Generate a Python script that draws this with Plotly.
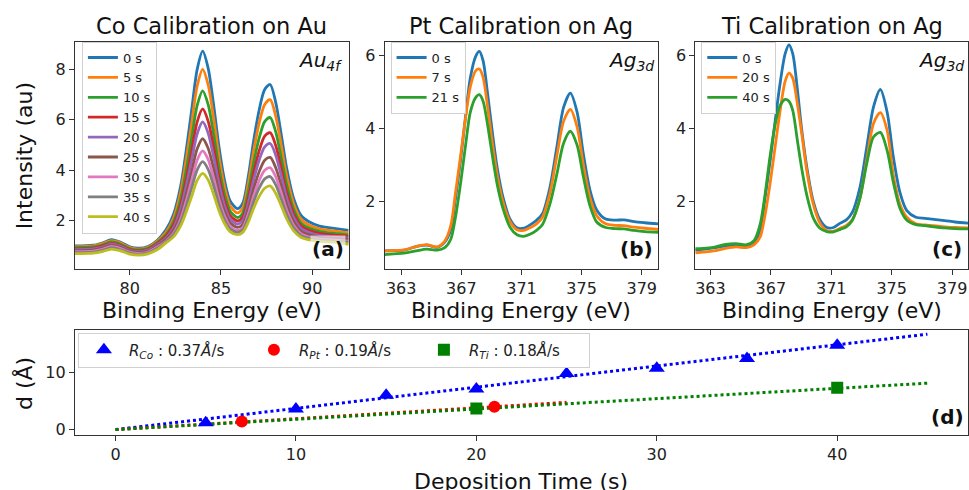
import plotly.graph_objects as go

W, H = 969, 490
FONT = "DejaVu Sans"
TAB = ["#1f77b4", "#ff7f0e", "#2ca02c", "#d62728", "#9467bd",
       "#8c564b", "#e377c2", "#7f7f7f", "#bcbd22"]

# ---------------- Panel (a): Co calibration on Au 4f ----------------
au_energy = [77.0, 78.0, 78.5, 79.0, 79.5, 80.0, 80.5, 81.0, 81.5, 82.0, 82.4, 82.8,
             83.1, 83.4, 83.7, 84.0, 84.3, 84.6, 84.9, 85.2, 85.5, 85.9, 86.2, 86.5,
             86.8, 87.1, 87.4, 87.7, 88.0, 88.3, 88.6, 89.0, 89.4, 89.8, 90.4, 91.2, 92.0]
au_labels = ["0 s", "5 s", "10 s", "15 s", "20 s", "25 s", "30 s", "35 s", "40 s"]
au_0s = [1.00, 1.03, 1.12, 1.25, 1.15, 0.97, 0.91, 0.98, 1.22, 1.65, 2.25, 3.40, 4.80, 6.40, 8.00, 8.72, 8.05, 6.60, 4.90, 3.60, 2.80, 2.48, 2.70, 3.75, 5.20, 6.40, 7.20, 7.40, 6.70, 5.45, 4.10, 2.85, 2.20, 1.97, 1.79, 1.70, 1.62]
au_5s = [0.97, 1.00, 1.09, 1.21, 1.12, 0.94, 0.88, 0.95, 1.18, 1.55, 2.10, 3.15, 4.43, 5.88, 7.34, 8.00, 7.39, 6.07, 4.52, 3.33, 2.60, 2.31, 2.51, 3.47, 4.79, 5.88, 6.61, 6.80, 6.16, 5.02, 3.79, 2.65, 2.05, 1.84, 1.68, 1.60, 1.52]
au_10s = [0.93, 0.96, 1.04, 1.16, 1.07, 0.90, 0.85, 0.91, 1.13, 1.46, 1.95, 2.87, 4.00, 5.28, 6.57, 7.15, 6.61, 5.44, 4.08, 3.03, 2.39, 2.13, 2.31, 3.15, 4.32, 5.28, 5.93, 6.09, 5.53, 4.52, 3.43, 2.43, 1.90, 1.72, 1.58, 1.50, 1.44]
au_15s = [0.89, 0.92, 1.00, 1.11, 1.02, 0.86, 0.81, 0.87, 1.09, 1.40, 1.83, 2.64, 3.64, 4.78, 5.92, 6.43, 5.95, 4.92, 3.71, 2.79, 2.22, 1.99, 2.15, 2.89, 3.92, 4.78, 5.35, 5.49, 4.99, 4.10, 3.14, 2.25, 1.79, 1.63, 1.50, 1.43, 1.38]
au_20s = [0.86, 0.89, 0.96, 1.08, 0.99, 0.83, 0.78, 0.84, 1.05, 1.33, 1.72, 2.47, 3.38, 4.41, 5.45, 5.92, 5.48, 4.54, 3.44, 2.60, 2.08, 1.87, 2.01, 2.69, 3.63, 4.41, 4.93, 5.06, 4.61, 3.80, 2.92, 2.11, 1.69, 1.54, 1.42, 1.36, 1.31]
au_25s = [0.82, 0.84, 0.92, 1.03, 0.94, 0.80, 0.75, 0.80, 1.00, 1.27, 1.61, 2.26, 3.05, 3.95, 4.85, 5.25, 4.87, 4.06, 3.10, 2.37, 1.92, 1.74, 1.86, 2.45, 3.27, 3.95, 4.40, 4.51, 4.11, 3.41, 2.65, 1.95, 1.58, 1.45, 1.35, 1.30, 1.26]
au_30s = [0.78, 0.80, 0.87, 0.98, 0.90, 0.76, 0.71, 0.76, 0.95, 1.20, 1.50, 2.08, 2.79, 3.60, 4.41, 4.77, 4.43, 3.70, 2.84, 2.19, 1.78, 1.62, 1.73, 2.26, 2.99, 3.60, 4.00, 4.10, 3.75, 3.12, 2.44, 1.81, 1.48, 1.36, 1.27, 1.23, 1.19]
au_35s = [0.74, 0.76, 0.83, 0.93, 0.85, 0.72, 0.67, 0.73, 0.90, 1.17, 1.44, 1.95, 2.58, 3.30, 4.02, 4.34, 4.04, 3.39, 2.63, 2.04, 1.68, 1.54, 1.64, 2.11, 2.76, 3.30, 3.66, 3.75, 3.43, 2.87, 2.27, 1.71, 1.41, 1.31, 1.23, 1.19, 1.15]
au_40s = [0.70, 0.72, 0.78, 0.88, 0.81, 0.68, 0.64, 0.69, 0.85, 1.13, 1.36, 1.81, 2.35, 2.97, 3.60, 3.88, 3.62, 3.05, 2.39, 1.89, 1.57, 1.45, 1.54, 1.94, 2.51, 2.97, 3.29, 3.38, 3.09, 2.61, 2.08, 1.59, 1.34, 1.25, 1.18, 1.15, 1.07]
au_series = [au_0s, au_5s, au_10s, au_15s, au_20s, au_25s, au_30s, au_35s, au_40s]

# ---------------- Panel (b): Pt calibration on Ag 3d ----------------
pt_energy = [361.9, 362.5, 363.2, 364.0, 364.7, 365.4, 365.9, 366.3, 366.6, 366.95,
             367.3, 367.6, 367.95, 368.2, 368.45, 368.75, 369.05, 369.4, 369.8, 370.25,
             370.7, 371.15, 371.6, 372.0, 372.4, 372.9, 373.35, 373.8, 374.25, 374.7,
             375.1, 375.55, 376.0, 376.6, 377.2, 377.8, 378.5, 379.2, 380.1]
pt_labels = ["0 s", "7 s", "21 s"]
pt_0s = [0.66, 0.67, 0.68, 0.78, 0.82, 0.76, 0.90, 1.24, 2.05, 3.14, 4.40, 5.39, 5.97, 6.11, 5.85, 4.95, 3.95, 2.90, 2.08, 1.52, 1.29, 1.28, 1.38, 1.50, 1.68, 2.41, 3.49, 4.58, 4.97, 4.45, 3.35, 2.33, 1.78, 1.53, 1.50, 1.51, 1.46, 1.43, 1.40]
pt_7s = [0.66, 0.67, 0.69, 0.78, 0.83, 0.77, 0.93, 1.35, 2.20, 3.25, 4.35, 5.15, 5.58, 5.63, 5.40, 4.60, 3.65, 2.70, 1.95, 1.45, 1.24, 1.22, 1.30, 1.40, 1.58, 2.25, 3.25, 4.20, 4.53, 4.05, 3.05, 2.12, 1.62, 1.40, 1.36, 1.35, 1.31, 1.28, 1.25]
pt_21s = [0.56, 0.58, 0.60, 0.66, 0.71, 0.68, 0.75, 0.98, 1.55, 2.50, 3.60, 4.45, 4.85, 4.93, 4.75, 4.10, 3.30, 2.45, 1.78, 1.30, 1.10, 1.06, 1.12, 1.22, 1.38, 1.95, 2.75, 3.60, 3.93, 3.55, 2.72, 1.90, 1.45, 1.30, 1.27, 1.26, 1.22, 1.19, 1.17]
pt_series = [pt_0s, pt_7s, pt_21s]

# ---------------- Panel (c): Ti calibration on Ag 3d ----------------
ti_energy = [362.0, 362.5, 363.2, 364.0, 364.7, 365.4, 365.9, 366.3, 366.6, 366.95,
             367.3, 367.6, 367.95, 368.2, 368.45, 368.75, 369.05, 369.4, 369.8, 370.25,
             370.7, 371.15, 371.6, 372.0, 372.4, 372.9, 373.35, 373.8, 374.25, 374.7,
             375.1, 375.55, 376.0, 376.6, 377.2, 377.8, 378.5, 379.2, 380.1]
ti_labels = ["0 s", "20 s", "40 s"]
ti_0s = [0.68, 0.70, 0.74, 0.80, 0.82, 0.79, 0.90, 1.25, 2.05, 3.10, 4.25, 5.20, 6.05, 6.29, 6.05, 5.10, 3.95, 2.90, 2.03, 1.51, 1.30, 1.30, 1.42, 1.51, 1.72, 2.40, 3.50, 4.60, 5.07, 4.45, 3.25, 2.25, 1.76, 1.58, 1.55, 1.52, 1.49, 1.45, 1.42]
ti_20s = [0.61, 0.63, 0.66, 0.73, 0.77, 0.75, 0.83, 1.05, 1.60, 2.50, 3.55, 4.45, 5.30, 5.52, 5.38, 4.70, 3.85, 2.80, 1.95, 1.42, 1.22, 1.20, 1.28, 1.36, 1.52, 2.10, 3.15, 4.15, 4.44, 3.95, 2.75, 1.93, 1.58, 1.40, 1.37, 1.35, 1.32, 1.30, 1.29]
ti_40s = [0.72, 0.73, 0.76, 0.84, 0.86, 0.83, 0.95, 1.40, 2.15, 3.25, 4.15, 4.62, 4.80, 4.75, 4.50, 3.70, 2.90, 2.15, 1.57, 1.28, 1.19, 1.18, 1.25, 1.32, 1.50, 2.10, 3.05, 3.78, 3.90, 3.40, 2.55, 1.82, 1.50, 1.38, 1.35, 1.32, 1.29, 1.27, 1.26]
ti_series = [ti_0s, ti_20s, ti_40s]

# ---------------- Panel (d): thickness vs deposition time ----------------
co_time = [5, 10, 15, 20, 25, 30, 35, 40]
co_thick = [1.2, 3.6, 6.0, 7.1, 9.8, 10.7, 12.4, 14.7]
pt_time = [7, 21]
pt_thick = [1.4, 4.0]
ti_time = [20, 40]
ti_thick = [3.7, 7.3]
co_fit_time = [0, 45]
co_fit_thick = [0, 16.65]
pt_fit_time = [0, 25]
pt_fit_thick = [0, 4.75]
ti_fit_time = [0, 45]
ti_fit_thick = [0, 8.1]
rate_labels = ["0.37", "0.19", "0.18"]


def px(x):
    return x / W


def py(y):
    return 1 - y / H


fig = go.Figure()

LW = 2.8
for name, ys, col in zip(au_labels, au_series, TAB):
    fig.add_trace(go.Scatter(x=au_energy, y=ys, name=name, mode="lines",
                             line=dict(color=col, width=LW, shape="spline", smoothing=0.8),
                             xaxis="x", yaxis="y", legend="legend"))
for name, ys, col in zip(pt_labels, pt_series, TAB):
    fig.add_trace(go.Scatter(x=pt_energy, y=ys, name=name, mode="lines",
                             line=dict(color=col, width=LW, shape="spline", smoothing=0.8),
                             xaxis="x2", yaxis="y2", legend="legend2"))
for name, ys, col in zip(ti_labels, ti_series, TAB):
    fig.add_trace(go.Scatter(x=ti_energy, y=ys, name=name, mode="lines",
                             line=dict(color=col, width=LW, shape="spline", smoothing=0.8),
                             xaxis="x3", yaxis="y3", legend="legend3"))

# fit lines
for tt, dd, col in [(co_fit_time, co_fit_thick, "blue"),
                    (pt_fit_time, pt_fit_thick, "red"),
                    (ti_fit_time, ti_fit_thick, "green")]:
    fig.add_trace(go.Scatter(x=tt, y=dd, mode="lines", showlegend=False,
                             line=dict(color=col, width=3, dash="dot"),
                             xaxis="x4", yaxis="y4", hoverinfo="skip"))

fig.add_trace(go.Scatter(x=co_time, y=co_thick, mode="markers",
                         name="<i>R</i><sub><i>Co</i></sub> : " + rate_labels[0] + "<i>Å</i>/s",
                         marker=dict(symbol="triangle-up", color="blue", size=14),
                         xaxis="x4", yaxis="y4", legend="legend4"))
fig.add_trace(go.Scatter(x=pt_time, y=pt_thick, mode="markers",
                         name="<i>R</i><sub><i>Pt</i></sub> : " + rate_labels[1] + "<i>Å</i>/s",
                         marker=dict(symbol="circle", color="red", size=12),
                         xaxis="x4", yaxis="y4", legend="legend4"))
fig.add_trace(go.Scatter(x=ti_time, y=ti_thick, mode="markers",
                         name="<i>R</i><sub><i>Ti</i></sub> : " + rate_labels[2] + "<i>Å</i>/s",
                         marker=dict(symbol="square", color="green", size=12),
                         xaxis="x4", yaxis="y4", legend="legend4"))

AX = dict(showline=True, mirror=True, linecolor="#333", linewidth=1,
          ticks="outside", ticklen=5, tickwidth=1, tickcolor="#333",
          showgrid=False, zeroline=False,
          tickfont=dict(family=FONT, size=16, color="#222"))

LEG = dict(xanchor="left", yanchor="top", bgcolor="rgba(255,255,255,0.8)",
           bordercolor="#d0d0d0", borderwidth=1,
           font=dict(family=FONT, size=13, color="#222"), itemwidth=30,
           tracegroupgap=0)

fig.update_layout(
    width=W, height=H, margin=dict(l=0, r=0, t=0, b=0),
    paper_bgcolor="white", plot_bgcolor="white",
    font=dict(family=FONT, color="#222"),
    xaxis=dict(AX, domain=[px(75), px(349)], anchor="y", range=[77, 92], tickvals=[80, 85, 90]),
    yaxis=dict(AX, domain=[py(272), py(42)], anchor="x", range=[0.08, 9.1], tickvals=[2, 4, 6, 8]),
    xaxis2=dict(AX, domain=[px(385), px(659)], anchor="y2", range=[361.9, 380.1],
                tickvals=[363, 367, 371, 375, 379]),
    yaxis2=dict(AX, domain=[py(272), py(42)], anchor="x2", range=[0.16, 6.38], tickvals=[2, 4, 6]),
    xaxis3=dict(AX, domain=[px(696), 1.0], anchor="y3", range=[362.0, 380.05],
                tickvals=[363, 367, 371, 375, 379]),
    yaxis3=dict(AX, domain=[py(272), py(42)], anchor="x3", range=[0.16, 6.38], tickvals=[2, 4, 6]),
    xaxis4=dict(AX, domain=[px(75), 1.0], anchor="y4", range=[-2.25, 47.25],
                tickvals=[0, 10, 20, 30, 40]),
    yaxis4=dict(AX, domain=[py(439), py(333)], anchor="x4", range=[-0.86, 17.45], tickvals=[0, 10]),
    legend=dict(LEG, x=px(82), y=py(42)),
    legend2=dict(LEG, x=px(391), y=py(42)),
    legend3=dict(LEG, x=px(702), y=py(42)),
    legend4=dict(LEG, x=px(78), y=py(336), orientation="h", entrywidth=115, itemwidth=40,
                 font=dict(family=FONT, size=15, color="#222")),
    showlegend=True,
)

ann = []


def text(x, y, s, size=22, angle=0, bold=False, bg=None, xanchor="center"):
    d = dict(x=px(x), y=py(y), xref="paper", yref="paper", text=s, showarrow=False,
             xanchor=xanchor, yanchor="middle", textangle=angle,
             font=dict(family=FONT, size=size, color="#111"))
    if bold:
        d["text"] = "<b>" + s + "</b>"
    if bg:
        d["bgcolor"] = bg
    ann.append(d)


text(212, 26, "Co Calibration on Au", size=22.5)
text(522, 26, "Pt Calibration on Ag", size=22.5)
text(833, 26, "Ti Calibration on Ag", size=22.5)
text(212, 314, "Binding Energy (eV)")
text(522, 314, "Binding Energy (eV)")
text(833, 314, "Binding Energy (eV)")
text(24, 157, "Intensity (au)", angle=-90)
text(24, 387, "d (Å)", angle=-90)
text(522, 486, "Deposition Time (s)")
text(328, 252, "(a)", size=20, bold=True, bg="rgba(255,255,255,0.6)")
text(637, 252, "(b)", size=20, bold=True, bg="rgba(255,255,255,0.6)")
text(948, 252, "(c)", size=20, bold=True, bg="rgba(255,255,255,0.6)")
text(948, 421, "(d)", size=20, bold=True)
text(320, 62, "<i>Au</i><sub><i>4f</i></sub>", size=20)
text(632, 62, "<i>Ag</i><sub><i>3d</i></sub>", size=20)
text(942, 62, "<i>Ag</i><sub><i>3d</i></sub>", size=20)

fig.update_layout(annotations=ann)
fig.write_html("out.html")
